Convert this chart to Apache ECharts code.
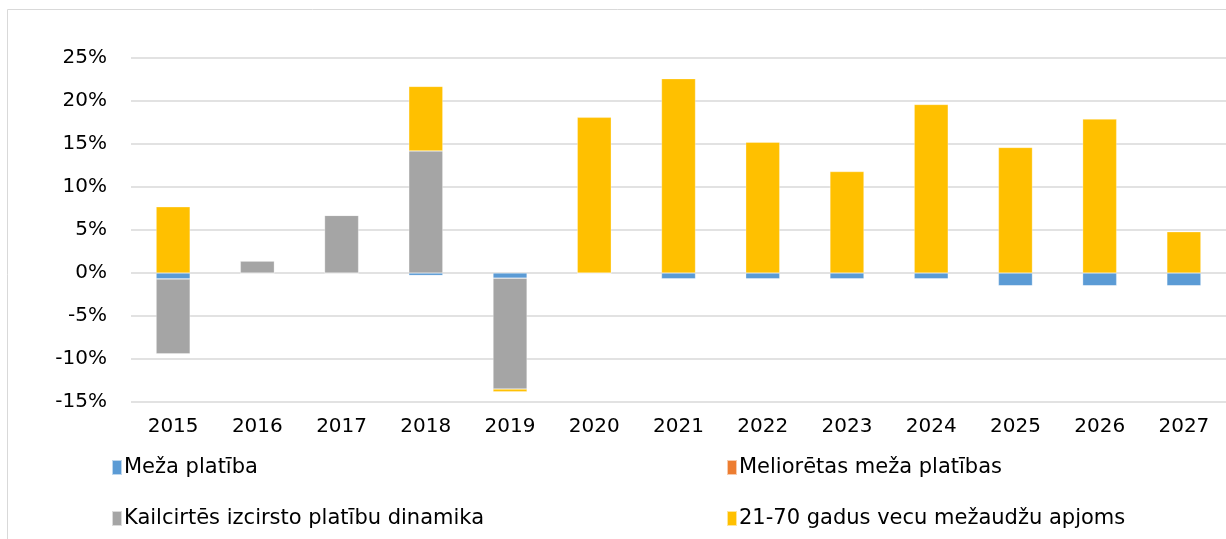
<!DOCTYPE html>
<html>
<head>
<meta charset="utf-8">
<script src="https://cdn.jsdelivr.net/npm/echarts@6/dist/echarts.min.js"></script>
<style>
  html, body { margin: 0; padding: 0; background: #fff; }
  #chart { width: 1226px; height: 539px; }
</style>
</head>
<body>
<div id="chart"></div>
<script>
// gadi
const years = ['2015', '2016', '2017', '2018', '2019', '2020', '2021', '2022', '2023', '2024', '2025', '2026', '2027'];

// vērtības, %
const mezaPlatiba = [-0.7, 0, 0, -0.3, -0.6, 0, -0.7, -0.7, -0.7, -0.7, -1.5, -1.5, -1.5];
const melioretas = [0, 0, 0, 0, 0, 0, 0, 0, 0, 0, 0, 0, 0];
const kailcirtes = [-8.7, 1.4, 6.7, 14.2, -12.9, 0, 0, 0, 0, 0, 0, 0, 0];
const vecums2170 = [7.7, 0, 0, 7.5, -0.3, 18.1, 22.6, 15.2, 11.8, 19.6, 14.6, 17.9, 4.8];

const names = ['Meža platība', 'Meliorētas meža platības', 'Kailcirtēs izcirsto platību dinamika', '21-70 gadus vecu mežaudžu apjoms'];

const font = 'DejaVu Sans';
const chart = echarts.init(document.getElementById('chart'));

function bar(name, data, color) {
  return {
    name: name,
    type: 'bar',
    stack: 'total',
    data: data,
    barWidth: 34,
    itemStyle: { color: color, borderColor: 'rgba(255,255,255,0.6)', borderWidth: 0.5 },
    emphasis: { disabled: true }
  };
}

const legendBase = {
  orient: 'vertical',
  top: 452,
  itemGap: 30,
  itemWidth: 10,
  itemHeight: 15,
  icon: 'rect',
  textStyle: { fontFamily: font, fontSize: 21, color: '#000', padding: [0, 0, 0, -3] }
};

chart.setOption({
  animation: false,
  graphic: [{
    type: 'rect',
    shape: { x: 7.5, y: 9.5, width: 1240, height: 560 },
    style: { fill: 'none', stroke: '#d9d9d9', lineWidth: 1 }
  }],
  grid: { left: 131, top: 58, width: 1100, height: 344 },
  legend: [
    Object.assign({ left: 106, data: [names[0], names[2]] }, legendBase),
    Object.assign({ left: 721, data: [names[1], names[3]] }, legendBase)
  ],
  xAxis: {
    type: 'category',
    data: years,
    axisLine: { show: false },
    axisTick: { show: false },
    axisLabel: { color: '#000', fontFamily: font, fontSize: 20, margin: 15 }
  },
  yAxis: {
    type: 'value',
    min: -15,
    max: 25,
    interval: 5,
    axisLine: { show: false },
    axisTick: { show: false },
    splitLine: { lineStyle: { color: '#d9d9d9', width: 1.5 } },
    axisLabel: { color: '#000', fontFamily: font, fontSize: 20, margin: 24, formatter: '{value}%' }
  },
  series: [
    bar(names[0], mezaPlatiba, '#5B9BD5'),
    bar(names[1], melioretas, '#ED7D31'),
    bar(names[2], kailcirtes, '#A5A5A5'),
    bar(names[3], vecums2170, '#FFC000')
  ]
});
</script>
</body>
</html>
